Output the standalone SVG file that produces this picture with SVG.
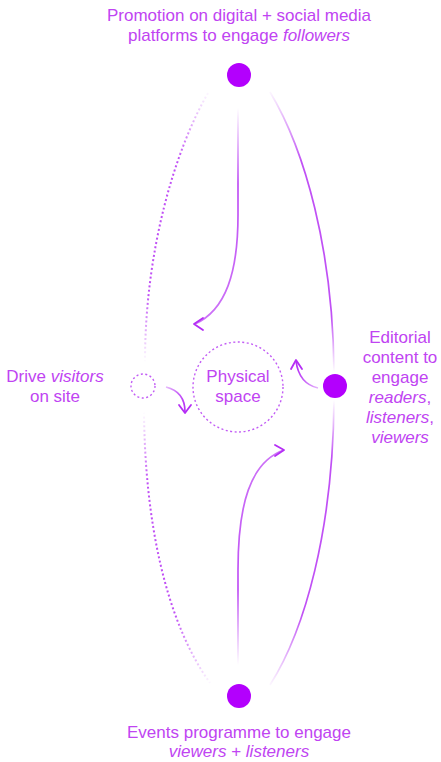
<svg xmlns="http://www.w3.org/2000/svg" width="441" height="762" viewBox="0 0 441 762">
<defs>
<style>
.lbl{font-family:"Liberation Sans",Arial,sans-serif;font-size:17px;fill:#c044f2;text-anchor:middle}
.it{font-style:italic}
.dot{fill:#b300fd}
.arc{fill:none;stroke-width:1.7}
.dotted{fill:none;stroke-width:2;stroke-dasharray:2 2.4}
.ring{fill:none;stroke:#c25cf5;stroke-width:1.4;stroke-dasharray:2 2.5}
.head{fill:none;stroke:#b52ef5;stroke-width:1.8;stroke-linecap:round;stroke-linejoin:round}
</style>
<linearGradient id="gRU" gradientUnits="userSpaceOnUse" x1="0" y1="92" x2="0" y2="372">
<stop offset="0" stop-color="#c050f5" stop-opacity="0.05"/><stop offset="0.25" stop-color="#c050f5" stop-opacity="1"/><stop offset="0.8" stop-color="#c050f5" stop-opacity="1"/><stop offset="1" stop-color="#c050f5" stop-opacity="0"/>
</linearGradient>
<linearGradient id="gRL" gradientUnits="userSpaceOnUse" x1="0" y1="400" x2="0" y2="685">
<stop offset="0" stop-color="#c050f5" stop-opacity="0"/><stop offset="0.2" stop-color="#c050f5" stop-opacity="1"/><stop offset="0.75" stop-color="#c050f5" stop-opacity="1"/><stop offset="1" stop-color="#c050f5" stop-opacity="0.05"/>
</linearGradient>
<linearGradient id="gLU" gradientUnits="userSpaceOnUse" x1="0" y1="93" x2="0" y2="362">
<stop offset="0" stop-color="#c050f5" stop-opacity="0.05"/><stop offset="0.25" stop-color="#c050f5" stop-opacity="1"/><stop offset="0.75" stop-color="#c050f5" stop-opacity="1"/><stop offset="1" stop-color="#c050f5" stop-opacity="0"/>
</linearGradient>
<linearGradient id="gLL" gradientUnits="userSpaceOnUse" x1="0" y1="412" x2="0" y2="683">
<stop offset="0" stop-color="#c050f5" stop-opacity="0"/><stop offset="0.25" stop-color="#c050f5" stop-opacity="1"/><stop offset="0.75" stop-color="#c050f5" stop-opacity="1"/><stop offset="1" stop-color="#c050f5" stop-opacity="0.05"/>
</linearGradient>
<linearGradient id="gTA" gradientUnits="userSpaceOnUse" x1="0" y1="108" x2="0" y2="324">
<stop offset="0" stop-color="#c050f5" stop-opacity="0"/><stop offset="0.35" stop-color="#c050f5" stop-opacity="1"/><stop offset="1" stop-color="#c050f5" stop-opacity="0.8"/>
</linearGradient>
<linearGradient id="gBA" gradientUnits="userSpaceOnUse" x1="0" y1="665" x2="0" y2="450">
<stop offset="0" stop-color="#c050f5" stop-opacity="0"/><stop offset="0.35" stop-color="#c050f5" stop-opacity="1"/><stop offset="1" stop-color="#c050f5" stop-opacity="0.8"/>
</linearGradient>
<linearGradient id="gSR" gradientUnits="userSpaceOnUse" x1="320" y1="0" x2="296" y2="0">
<stop offset="0" stop-color="#b52ef5" stop-opacity="0.3"/><stop offset="1" stop-color="#b52ef5" stop-opacity="1"/>
</linearGradient>
<linearGradient id="gSL" gradientUnits="userSpaceOnUse" x1="165" y1="0" x2="186" y2="0">
<stop offset="0" stop-color="#b52ef5" stop-opacity="0.3"/><stop offset="1" stop-color="#b52ef5" stop-opacity="1"/>
</linearGradient>
</defs>
<g id="connectors">
<path class="arc" stroke="url(#gRU)" d="M270,92 C305,150 333,250 334,372"/>
<path class="arc" stroke="url(#gRL)" d="M334,400 C333,530 305,630 270,685"/>
<path class="dotted" stroke="url(#gLU)" d="M208,93 C175,150 145,250 145,362"/>
<path class="dotted" stroke="url(#gLL)" d="M144,412 C145,520 165,620 210,683"/>
<path class="arc" stroke="url(#gTA)" d="M238,108 L238,215 C238,272 226,310 195,324"/>
<polyline class="head" points="203,318 194,324 203,330"/>
<path class="arc" stroke="url(#gBA)" d="M238,665 L238,570 C238,505 250,462 284,450"/>
<polyline class="head" points="275,445 284,450 275,456"/>
<path class="arc" stroke="url(#gSR)" d="M318,388 C305,385 298,376 296,361"/>
<polyline class="head" points="291,369 296,360 302,369"/>
<path class="arc" stroke="url(#gSL)" d="M166,387 C178,390 185,398 185,412"/>
<polyline class="head" points="179,405 185,413 191,405"/>
</g>
<g id="node-top">
<circle class="dot" cx="239" cy="75" r="12"/>
<text class="lbl" x="239" y="21">Promotion on digital + social media</text>
<text class="lbl" x="239" y="41">platforms to engage <tspan class="it">followers</tspan></text>
</g>
<g id="node-right">
<circle class="dot" cx="335" cy="386" r="12"/>
<text class="lbl" x="400" y="343">Editorial</text>
<text class="lbl" x="400" y="363">content to</text>
<text class="lbl" x="400" y="383">engage</text>
<text class="lbl" x="400" y="403"><tspan class="it">readers</tspan>,</text>
<text class="lbl" x="400" y="423"><tspan class="it">listeners</tspan>,</text>
<text class="lbl" x="400" y="443"><tspan class="it">viewers</tspan></text>
</g>
<g id="node-bottom">
<circle class="dot" cx="239" cy="696" r="12"/>
<text class="lbl" x="239" y="738">Events programme to engage</text>
<text class="lbl" x="239" y="757"><tspan class="it">viewers</tspan> + <tspan class="it">listeners</tspan></text>
</g>
<g id="node-left">
<circle class="ring" cx="143" cy="386" r="12"/>
<text class="lbl" x="55" y="382">Drive <tspan class="it">visitors</tspan></text>
<text class="lbl" x="55" y="402">on site</text>
</g>
<g id="node-physical">
<circle class="ring" cx="238" cy="387" r="45"/>
<text class="lbl" x="238" y="382">Physical</text>
<text class="lbl" x="238" y="402">space</text>
</g>
</svg>
